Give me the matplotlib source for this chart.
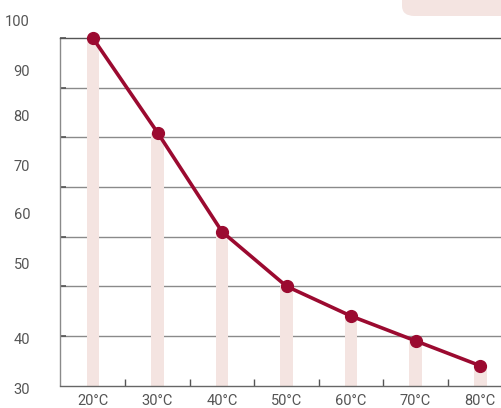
import matplotlib.pyplot as plt
from matplotlib.patches import FancyBboxPatch

# data
categories = ['20°C', '30°C', '40°C', '50°C', '60°C', '70°C', '80°C']
values = [100, 81, 61, 50, 44, 39, 34]
grid_values = [40, 50, 60, 70, 80, 90, 100]
# y labels sit at odd positions in the original, keep them as drawn
label_texts = ['100', '90', '80', '70', '60', '50', '40', '30']
label_pos = [103.3, 93.2, 84.1, 74.1, 64.4, 54.3, 39.2, 29.1]

LINE = '#9b0a30'
BAR = '#f4e4e1'
TEXT = '#555555'
FONT = ['Roboto', 'DejaVu Sans']

fig = plt.figure(figsize=(5.02, 4.08), dpi=100)
ax = fig.add_axes([60.5 / 502, 22.5 / 408, 1 - 60.5 / 502, (385.5 - 38.3) / 408])

x = list(range(len(categories)))
for yv in grid_values[:-1]:
    ax.axhline(yv, color='#8a8a8a', lw=1.0, zorder=1)
ax.bar(x, [v - 30 for v in values], bottom=30, width=0.2, color=BAR, zorder=2)
ax.plot(x, values, color=LINE, lw=2.6, marker='o', ms=8.5, zorder=3, clip_on=False)

ax.set_xlim(-0.504, 6.34)
ax.set_ylim(30, 100)

ax.spines['right'].set_visible(False)
ax.spines['top'].set_color('#555555')
ax.spines['bottom'].set_color('#666666')
ax.spines['left'].set_color('#8a8a8a')
for s in ['top', 'bottom', 'left']:
    ax.spines[s].set_linewidth(1.0)

ax.set_xticks([i + 0.5 for i in x[:-1]])
ax.set_xticklabels([])
ax.tick_params(axis='x', direction='in', length=5, width=1, color='#555555')
ax.set_yticks(grid_values)
ax.set_yticklabels([])
ax.tick_params(axis='y', direction='in', length=4, width=1.2, color='#555555')

for i, c in enumerate(categories):
    ax.text(i, -0.045, c, transform=ax.get_xaxis_transform(), ha='center', va='center',
            fontsize=10.5, color=TEXT, family=FONT)
for t, p in zip(label_texts, label_pos):
    ax.text(-0.069, p, t, transform=ax.get_yaxis_transform(), ha='right', va='center',
            fontsize=10.5, color=TEXT, family=FONT, clip_on=False)

# partly visible legend box at the top right
box = FancyBboxPatch((402 / 502, (408 - 16) / 408), 0.3, 0.1,
                     boxstyle='round,pad=0,rounding_size=0.025',
                     transform=fig.transFigure, color=BAR, lw=0, zorder=0)
fig.patches.append(box)

fig.savefig('out.png', dpi=100)
